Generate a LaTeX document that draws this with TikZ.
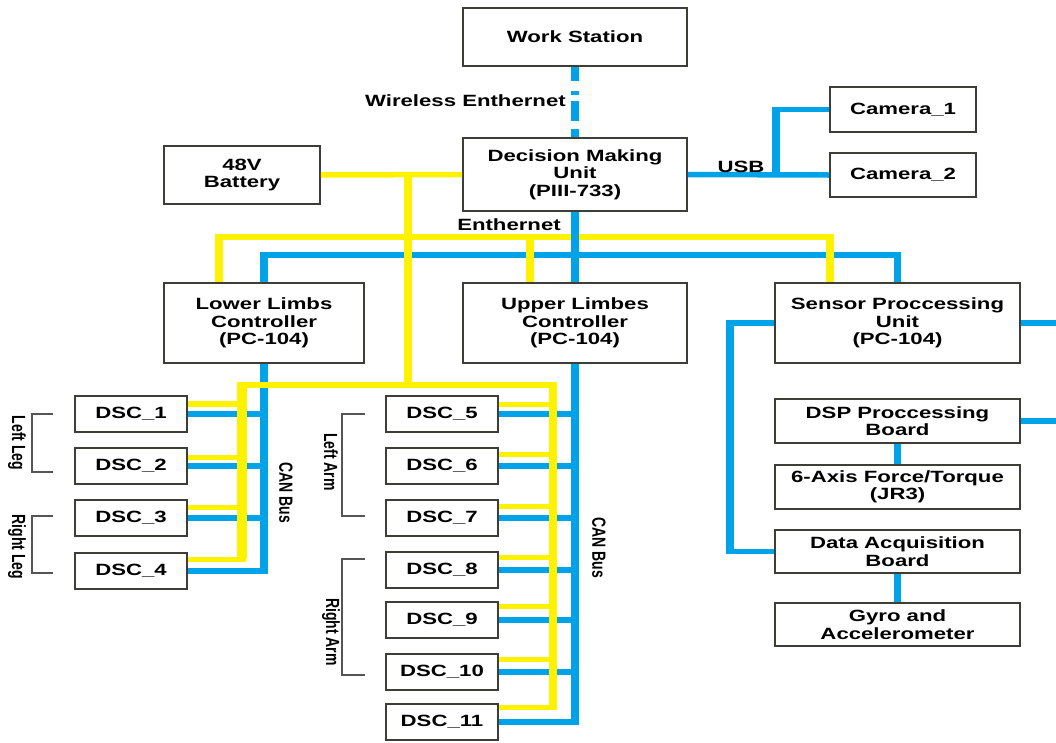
\documentclass[tikz,border=0pt]{standalone}
\usepackage{fontspec}
\setmainfont{Liberation Sans}
\usetikzlibrary{calc}
\definecolor{cblue}{RGB}{0,162,232}
\definecolor{cyel}{RGB}{255,242,0}
\definecolor{cedge}{RGB}{62,62,56}
\definecolor{cbrk}{RGB}{85,85,85}
% a framed unit given by its corners: name, x1, y1, x2, y2, text
\newcommand\unitbox[6]{%
  \node[box, minimum width={0.735294pt*(#4-#2)}, minimum height={1pt*(#5-#3)}]
    (#1) at ({(#2+#4)/2},{(#3+#5)/2}) {#6};}

\begin{document}
\begin{tikzpicture}[x=1pt,y=-1pt]
\fill[white] (0,0) rectangle (1056,742);
\useasboundingbox (0,0) rectangle (1056,742);
% the whole drawing is set in a horizontally widened canvas
\begin{scope}[transform canvas={xscale=1.36}, x=0.735294pt, y=-1pt,
  box/.style={draw=cedge, line width=1.3, fill=white, inner sep=0pt, align=center,
              font=\fontsize{16.3}{17.5}\selectfont\bfseries},
  bl/.style={draw=cblue, line width=5.5},
  yl/.style={draw=cyel, line width=5.5},
  lbl/.style={font=\fontsize{16.3}{17}\selectfont\bfseries, inner sep=0pt},
  rot/.style={font=\fontsize{14}{16}\selectfont\bfseries, rotate=-90, inner sep=0pt},
  brk/.style={draw=cbrk, line width=1.2}]

% ---- units ----
\unitbox{ws}{463}{8}{687}{66}{Work Station}
\unitbox{dmu}{463}{138}{687}{211}{Decision Making\\Unit\\(PIII-733)}
\unitbox{bat}{164}{146}{320}{204}{48V\\Battery}
\unitbox{cam1}{830}{87}{976}{132}{Camera\_1}
\unitbox{cam2}{830}{153}{976}{197}{Camera\_2}
\unitbox{llc}{164}{283}{364}{363}{Lower Limbs\\Controller\\(PC-104)}
\unitbox{ulc}{463}{283}{687}{363}{Upper Limbes\\Controller\\(PC-104)}
\unitbox{spu}{775}{283}{1020}{363}{Sensor Proccessing\\Unit\\(PC-104)}
\unitbox{dsp}{775}{399}{1020}{443}{DSP Proccessing\\Board}
\unitbox{ft}{775}{465}{1020}{509}{6-Axis Force/Torque\\(JR3)}
\unitbox{daq}{775}{530}{1020}{573}{Data Acquisition\\Board}
\unitbox{gyro}{775}{603}{1020}{646}{Gyro and\\Accelerometer}

% ---- joint controllers ----
\foreach \n/\xa/\ya in {1/75/396, 2/75/448, 3/75/500, 4/75/553,
                        5/386/396, 6/386/448, 7/386/500, 8/386/552,
                        9/386/602, 10/386/654, 11/386/704}
  {\unitbox{d\n}{\xa}{\ya}{\xa+112}{\ya+36}{DSC\_\n}}

% power inlets of the controllers
\foreach \n/\o in {1/8.5, 2/10, 3/8, 4/7, 5/9, 6/7, 7/7, 8/6, 9/5, 10/6, 11/4}
  \coordinate (y\n) at ($(d\n.north east)+(0,\o)$);

% ---- CAN buses ----
\draw[bl] (llc.south) |- (d4.east);
\foreach \n in {1,2,3} \draw[bl] (d\n.east) -- (d\n.east -| llc.south);
\draw[bl] (ulc.south) |- (d11.east);
\foreach \n in {5,...,10} \draw[bl] (d\n.east) -- (d\n.east -| ulc.south);

% ---- Ethernet ----
\coordinate (bbus) at (575,255);
\draw[bl] (llc.north) |- (bbus) -| (spu.north);

% ---- USB ----
\draw[bl] (dmu.east) -- (cam2.west);
\coordinate (usbj) at (776,175);
\draw[bl] (usbj) |- (cam1.west);

% ---- sensor links ----
\coordinate (rim) at (1062,0);
\draw[bl] (spu.west) -- ++(-44,0) |- (daq.west);
\draw[bl] (spu.east) -- (spu.east -| rim);
\draw[bl] (dsp.east) -- (dsp.east -| rim);
\draw[bl] (dsp.south) -- (ft.north);
\draw[bl] (daq.south) -- (gyro.north);

% ---- 48V power ----
\coordinate (pj) at (408,175);
\coordinate (ybus) at (0,237);
\coordinate (ydist) at (408,385);
\coordinate (ycolL) at (242,385);
\coordinate (ycolR) at (553,385);
\coordinate (yl1) at ($(llc.north west)+(56,0)$);
\coordinate (yl2) at ($(ulc.north west)+(68,0)$);
\coordinate (yl3) at ($(spu.north west)+(56,0)$);
\draw[yl] (bat.east) -- (dmu.west);
\draw[yl] (yl1) |- (yl3 |- ybus) -- (yl3);
\draw[yl] (yl2) -- (yl2 |- ybus);
\draw[yl] (pj) -- (ydist);
\draw[yl] (y4) -| (ycolL) -- (ycolR) |- (y11);
\draw[yl, line width=7.5] (y4 -| ycolL) -- ([yshift=2.75pt]ycolL);
\foreach \n in {1,2,3} \draw[yl] (y\n) -- (y\n -| ycolL);
\foreach \n in {5,...,10} \draw[yl] (y\n) -- (y\n -| ycolR);

% ---- main Ethernet trunk and wireless link ----
\draw[bl] (dmu.south) -- (ulc.north);
\draw[bl, dash pattern=on 14pt off 10pt on 4pt off 6pt on 20pt off 8pt on 10pt]
  (ws.south) -- (dmu.north);

% ---- labels ----
\node[lbl, anchor=east] (wl) at (566,101) {Wireless Enthernet};
\node[lbl] (el) at (509,225) {Enthernet};
\node[lbl] (ul) at (741,167) {USB};
\node[rot] (t1) at (17,443)  {Left Leg};
\node[rot] (t2) at (17,547)  {Right Leg};
\node[rot] (t3) at (331,462) {Left Arm};
\node[rot] (t4) at (331,632) {Right Arm};
\node[rot] (t5) at (286,493) {CAN Bus};
\node[rot] (t6) at (599,548) {CAN Bus};

% ---- group brackets ----
\draw[brk] (53,414) -- (32,414) -- (32,472) -- (53,472);
\draw[brk] (53,516) -- (32,516) -- (32,573) -- (53,573);
\draw[brk] (365,414) -- (342,414) -- (342,516) -- (365,516);
\draw[brk] (365,559) -- (342,559) -- (342,675) -- (365,675);
\end{scope}
\end{tikzpicture}
\end{document}
